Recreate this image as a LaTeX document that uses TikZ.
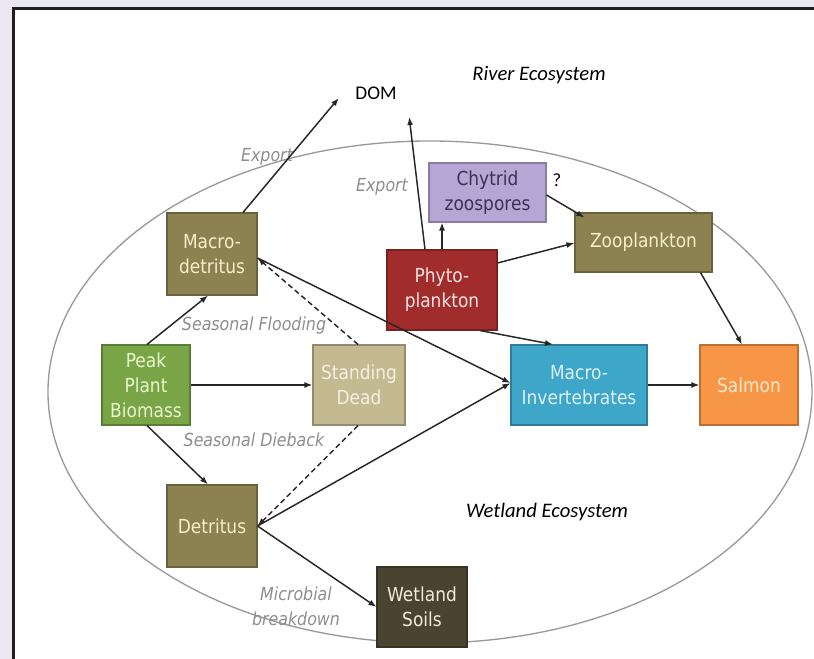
\documentclass[tikz,border=0pt]{standalone}
\usepackage{fontspec}
\setmainfont{DejaVu Sans}[FakeStretch=0.88]
\newfontfamily\calfont{Carlito}
\usetikzlibrary{arrows.meta,calc}
\definecolor{bglav}{HTML}{EBE7F2}
\definecolor{olivebox}{HTML}{8C8150}
\definecolor{olivetxt}{HTML}{F4EECB}
\definecolor{greenbox}{HTML}{79A546}
\definecolor{greentxt}{HTML}{EAF6CC}
\definecolor{tanbox}{HTML}{C4BA92}
\definecolor{tantxt}{HTML}{F4F0E2}
\definecolor{soilbox}{HTML}{4A432F}
\definecolor{soiltxt}{HTML}{F1ECD8}
\definecolor{redbox}{HTML}{A12C2C}
\definecolor{redtxt}{HTML}{F8E2E2}
\definecolor{lavbox}{HTML}{B6A6D6}
\definecolor{lavtxt}{HTML}{3B3155}
\definecolor{bluebox}{HTML}{3DA6C9}
\definecolor{bluetxt}{HTML}{DDF2F9}
\definecolor{orangebox}{HTML}{F79646}
\definecolor{orangetxt}{HTML}{FDE7CC}
\definecolor{graylbl}{HTML}{8E8E8E}
\definecolor{ellgray}{HTML}{9A9A9A}
\begin{document}
\begin{tikzpicture}[x=0.75pt,y=-0.75pt,
  box/.style={draw=#1!75!black, fill=#1, line width=0.8pt, align=center,
    font=\fontsize{14.5}{18.75}\selectfont, inner sep=2pt},
  conn/.style={line width=1.1pt, draw=black!85, -{Latex[length=6pt,width=4.5pt]}},
  dconn/.style={conn, dash pattern=on 4pt off 2.5pt},
  glabel/.style={text=graylbl, font=\fontsize{13.5}{19}\selectfont\itshape, align=center},
  elabel/.style={font=\calfont\fontsize{15.5}{18}\selectfont\itshape}]
\useasboundingbox (0,0) rectangle (814,659);
\fill[bglav] (0,0) rectangle (814,659);
\fill[white] (13,9) rectangle (814,659);
\draw[line width=2.25pt, color=black!88] (13,659) -- (13,9) -- (814,9);
% ellipse
\draw[ellgray, line width=1pt] (430,392) ellipse [x radius=382, y radius=251];
% nodes
\node[box=olivebox, text=olivetxt, minimum width=67.5pt, minimum height=61.5pt] (mdet) at (212,254) {Macro-\\detritus};
\node[box=greenbox, text=greentxt, minimum width=66pt, minimum height=60pt] (peak) at (146,385) {Peak\\Plant\\Biomass};
\node[box=tanbox, text=tantxt, minimum width=69pt, minimum height=60pt] (stand) at (359,385) {Standing\\Dead};
\node[box=olivebox, text=olivetxt, minimum width=67.5pt, minimum height=61.5pt] (det) at (212,526) {Detritus};
\node[box=soilbox, text=soiltxt, minimum width=67.5pt, minimum height=60pt] (soils) at (422,607) {Wetland\\Soils};
\node[box=redbox, text=redtxt, minimum width=82.5pt, minimum height=60pt] (phyto) at (442,290) {Phyto-\\plankton};
\node[box=lavbox, text=lavtxt, minimum width=87.75pt, minimum height=44.25pt] (chyt) at (487.5,192.5) {Chytrid\\zoospores};
\node[box=olivebox, text=olivetxt, minimum width=102.75pt, minimum height=44.25pt] (zoo) at (643.5,242.5) {Zooplankton};
\node[box=bluebox, text=bluetxt, minimum width=102pt, minimum height=60pt] (minv) at (579,385) {Macro-\\Invertebrates};
\node[box=orangebox, text=orangetxt, minimum width=73.5pt, minimum height=60pt] (salmon) at (749,385) {Salmon};
\node[font=\calfont\fontsize{14.5}{16}\selectfont, inner sep=1pt] (dom) at (376,93) {DOM};
% region labels
\node[elabel] (river) at (539,75) {River Ecosystem};
\node[elabel] (wetland) at (547,512) {Wetland Ecosystem};
% gray labels
\node[glabel] (exp1) at (267,157) {Export};
\node[glabel] (exp2) at (382,187) {Export};
\node[glabel] (flood) at (254,326) {Seasonal Flooding};
\node[glabel] (dieback) at (254,440) {Seasonal Dieback};
\node[glabel] (micro) at (296,606) {Microbial\\breakdown};
\node[font=\calfont\fontsize{14}{16}\selectfont] (q) at (557,180) {?};
% connectors
\draw[conn] ($(mdet.north)+(31,0)$) -- ($(dom.west)+(-15,5)$);
\draw[conn] ($(phyto.north)+(-17,0)$) -- ($(dom.east)+(11,24)$);
\draw[conn] (phyto.north) -- (phyto.north |- chyt.south);
\draw[conn] ($(phyto.east)+(0,-27)$) -- ($(zoo.west)+(0,0.5)$);
\draw[conn] ($(chyt.east)+(0,2.5)$) -- ($(zoo.north west)+(10,5)$);
\draw[conn] ($(phyto.south)+(38,0)$) -- ($(minv.north)+(-26,0)$);
\draw[conn] ($(zoo.south)+(57,0)$) -- ($(salmon.north)+(-7,0)$);
\draw[conn] (minv.east) -- (salmon.west);
\draw[conn] ($(mdet.east)+(0,4)$) -- ($(minv.west)+(0,-2)$);
\draw[conn] (det.east) -- ($(minv.west)+(0,-2)$);
\draw[conn] ($(peak.north)+(1,0)$) -- ($(mdet.south)+(-4,0)$);
\draw[conn] (peak.east) -- (stand.west);
\draw[conn] ($(peak.south)+(1,0)$) -- ($(det.north)+(-4,0)$);
\draw[dconn] ($(stand.north)+(-1,0)$) -- ($(mdet.east)+(0,4)$);
\draw[dconn] ($(stand.south)+(-1,0)$) -- (det.east);
\draw[conn] (det.east) -- (soils.west);
\end{tikzpicture}
\end{document}
